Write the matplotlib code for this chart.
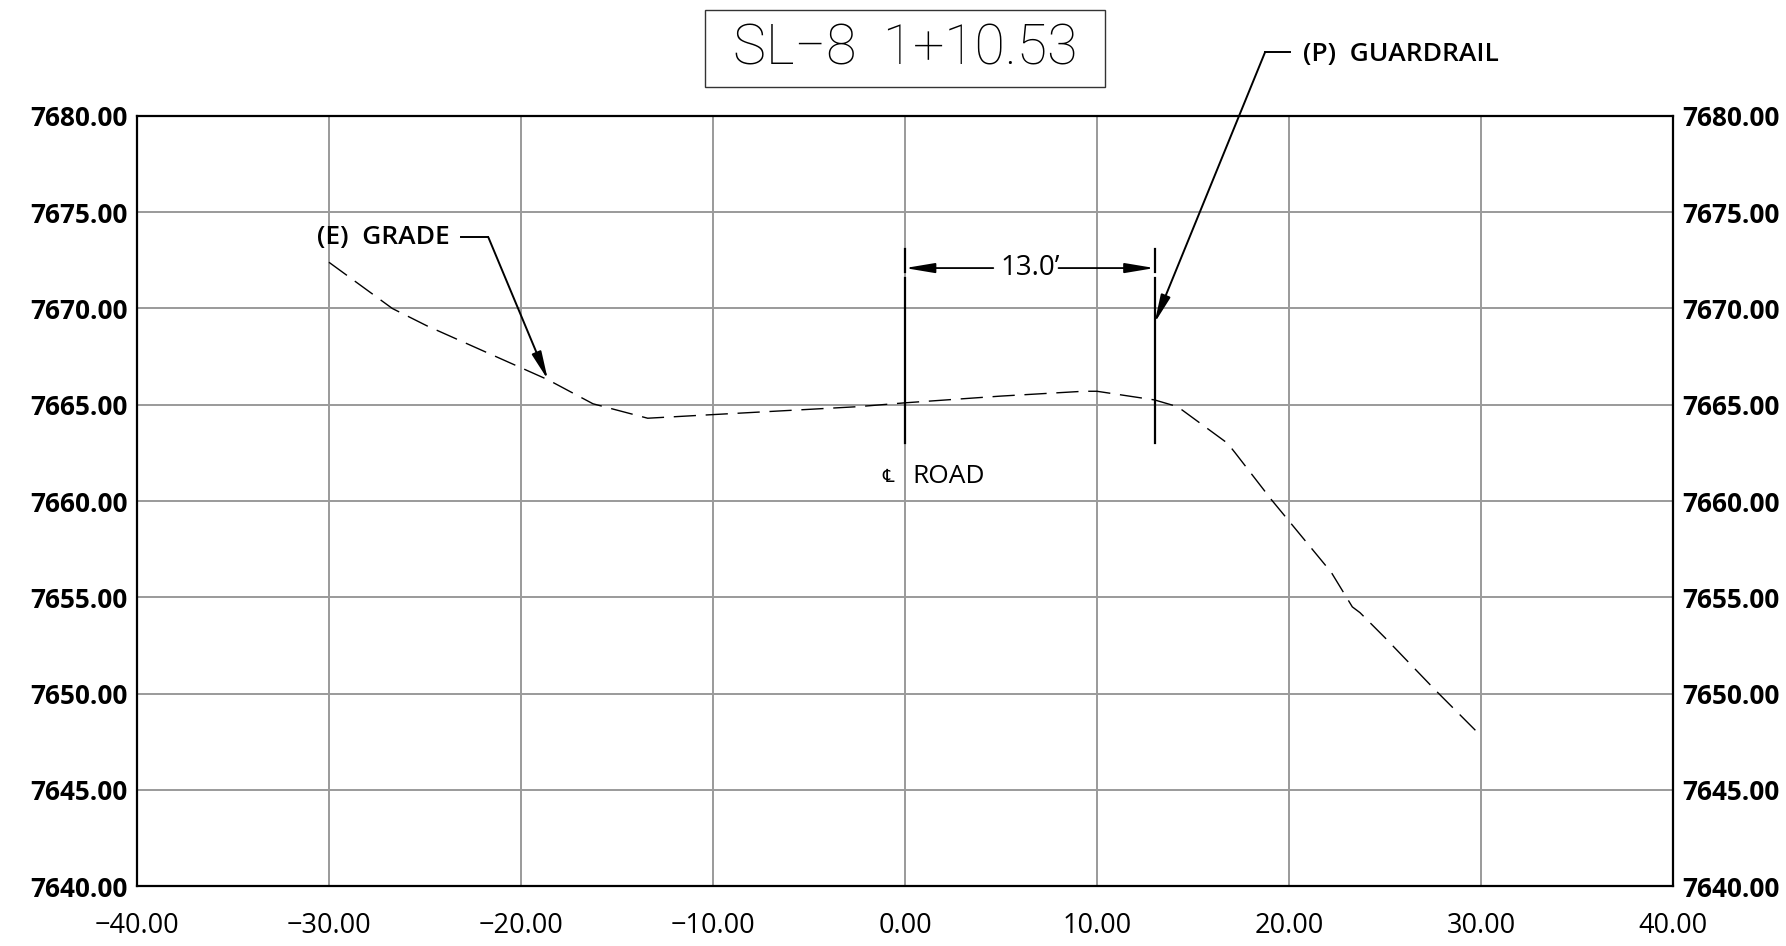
import matplotlib
matplotlib.use('Agg')
import matplotlib.pyplot as plt
from matplotlib.patches import Rectangle
from matplotlib.ticker import MultipleLocator, FuncFormatter

# datos del perfil (E) GRADE
offsets = [-30, -26.7, -24.9, -18.6, -16.25, -13.4, -10.7, -2.45, 0, 5, 9.3, 10,
           13, 14.2, 16.8, 17.2, 19.1, 22.2, 23.3, 23.7, 25.0, 27.6, 30]
elevaciones = [7672.4, 7670.0, 7669.1, 7666.3, 7665.05, 7664.3, 7664.45, 7664.9,
               7665.1, 7665.45, 7665.7, 7665.7, 7665.25, 7664.9, 7663.0, 7662.5,
               7660.05, 7656.3, 7654.5, 7654.2, 7652.9, 7650.2, 7647.8]
titulo = 'SL\u22128  1+10.53'
eje_road = 0.0
guardrail = 13.0
x_lim = (-40, 40)
y_lim = (7640, 7680)

FONT = 'Open Sans'

fig = plt.figure(figsize=(17.86, 9.46), dpi=100)
ax = fig.add_axes([0.0767, 0.0634, 0.86, 0.814])

ax.set_xlim(*x_lim)
ax.set_ylim(*y_lim)
ax.xaxis.set_major_locator(MultipleLocator(10))
ax.yaxis.set_major_locator(MultipleLocator(5))
fmt = FuncFormatter(lambda v, p: '{:.2f}'.format(v).replace('-', '\u2212'))
ax.xaxis.set_major_formatter(fmt)
ax.yaxis.set_major_formatter(fmt)
ax.grid(True, color='#9a9a9a', lw=1.4)
ax.set_axisbelow(True)
for s in ax.spines.values():
    s.set_linewidth(1.6)
    s.set_color('black')

ax.tick_params(axis='both', length=0)
ax.tick_params(axis='x', pad=19)
ax.tick_params(axis='y', pad=7, labelright=True)
for lab in ax.get_xticklabels():
    lab.set_fontfamily(FONT)
    lab.set_fontsize(19.5)
for t in ax.yaxis.get_major_ticks():
    for lab in (t.label1, t.label2):
        lab.set_fontfamily(FONT)
        lab.set_fontsize(18.8)
        lab.set_fontweight('bold')

# terreno existente (linea discontinua)
ax.plot(offsets, elevaciones, color='black', lw=1.0, dashes=(16, 7))

# lineas de referencia: eje de la carretera y guardarrail
for xv in (eje_road, guardrail):
    ax.plot([xv, xv], [7673.1, 7671.9], color='black', lw=1.6)
    ax.plot([xv, xv], [7671.6, 7663.0], color='black', lw=1.6)

# cota 13.0'
y_cota = 7672.1
flecha = dict(arrowstyle='-|>,head_length=1.8,head_width=0.3', color='black',
              lw=1.3, shrinkA=0, shrinkB=0, mutation_scale=10)
ax.annotate('', xy=(eje_road, y_cota), xytext=(4.6, y_cota), arrowprops=flecha)
ax.annotate('', xy=(guardrail, y_cota), xytext=(8.0, y_cota), arrowprops=flecha)
ax.text((eje_road + guardrail) / 2, y_cota, "13.0\u2019", fontsize=20,
        family=FONT, ha='center', va='center')

# etiqueta del eje
ax.text(-0.6, 7661.25, '\u2104', fontsize=13, family=['DejaVu Sans'],
        ha='right', va='center')
ax.text(0.4, 7661.25, 'ROAD', fontsize=19, family=FONT, fontweight='medium',
        ha='left', va='center')

# (E) GRADE
ax.text(-30.6, 7673.7, '(E)  GRADE', fontsize=19, family=FONT, fontweight='semibold',
        ha='left', va='center')
ax.plot([-23.1, -21.7], [7673.7, 7673.7], color='black', lw=1.4)
ax.annotate('', xy=(-18.6, 7666.3), xytext=(-21.7, 7673.7),
            arrowprops=dict(arrowstyle='-|>,head_length=1.7,head_width=0.3',
                            color='black', lw=1.4, shrinkA=0, shrinkB=0,
                            mutation_scale=10))

# (P) GUARDRAIL
ax.text(20.73, 7683.17, '(P)  GUARDRAIL', fontsize=19, family=FONT,
        fontweight='semibold', ha='left', va='center', clip_on=False)
ax.plot([18.75, 20.05], [7683.3, 7683.3], color='black', lw=1.4, clip_on=False)
ax.annotate('', xy=(guardrail, 7669.25), xytext=(18.75, 7683.3),
            arrowprops=dict(arrowstyle='-|>,head_length=1.7,head_width=0.3',
                            color='black', lw=1.4, shrinkA=0, shrinkB=0,
                            mutation_scale=10),
            annotation_clip=False)

# titulo en recuadro
fig.patches.append(Rectangle((0.3947, 0.908), 0.224, 0.0814, transform=fig.transFigure,
                             fill=False, edgecolor='#333333', lw=1.0))
fig.text(0.5067, 0.948, titulo, fontsize=40, family='Roboto', fontweight='light',
         ha='center', va='center')

fig.savefig('out.png', dpi=100)
